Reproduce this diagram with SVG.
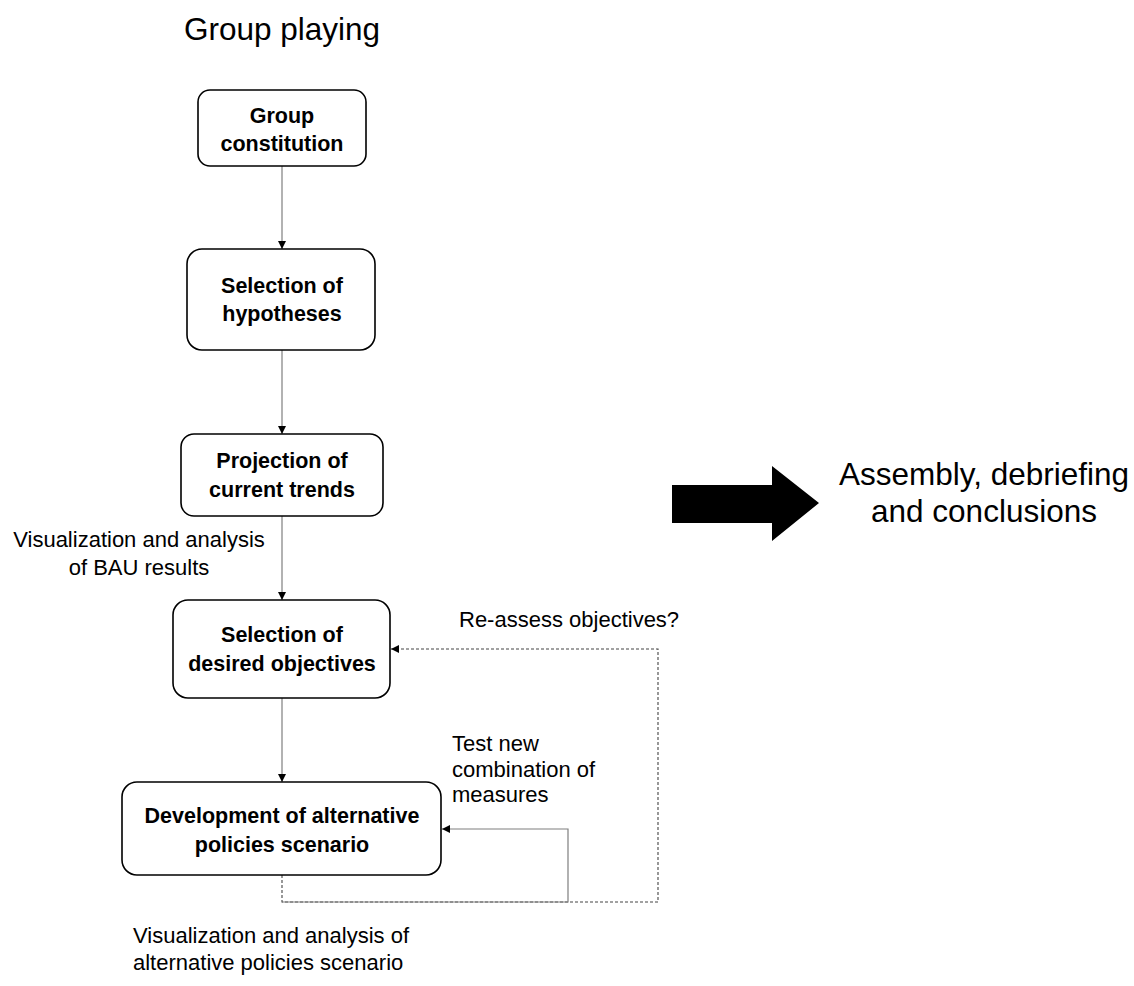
<svg xmlns="http://www.w3.org/2000/svg" width="1134" height="986" viewBox="0 0 1134 986">
<style>
.box{fill:#fff;stroke:#000;stroke-width:1.6}
.bt{font-family:"Liberation Sans",Arial,sans-serif;font-weight:bold;font-size:21.5px;fill:#000;text-anchor:middle}
.lt{font-family:"Liberation Sans",Arial,sans-serif;font-size:22px;fill:#000}
.big{font-family:"Liberation Sans",Arial,sans-serif;font-size:31.5px;fill:#000;text-anchor:middle}
.c{fill:none;stroke:#7f7f7f;stroke-width:1.2}
.d{fill:none;stroke:#444;stroke-width:1.1;stroke-dasharray:3 2}
</style>
<defs>
<marker id="ah" markerUnits="userSpaceOnUse" markerWidth="9" markerHeight="8" refX="8" refY="4" orient="auto">
<path d="M0,0 L8,4 L0,8 Z" fill="#000"/>
</marker>
</defs>
<rect width="1134" height="986" fill="#fff"/>
<text class="big" x="282" y="40">Group playing</text>
<g id="connectors">
<line class="c" x1="282" y1="166" x2="282" y2="249" marker-end="url(#ah)"/>
<line class="c" x1="282" y1="350" x2="282" y2="434" marker-end="url(#ah)"/>
<line class="c" x1="282" y1="516" x2="282" y2="600" marker-end="url(#ah)"/>
<line class="c" x1="282" y1="698" x2="282" y2="782" marker-end="url(#ah)"/>
<path class="d" d="M282,875 L282,902 L658,902 L658,649 L391,649" marker-end="url(#ah)"/>
<path class="c" d="M282,902 L568,902 L568,829 L442,829" marker-end="url(#ah)"/>
</g>
<g id="n1">
<rect class="box" x="198" y="90" width="168" height="76" rx="12"/>
<text class="bt" x="282" y="123">Group</text>
<text class="bt" x="282" y="151">constitution</text>
</g>
<g id="n2">
<rect class="box" x="187" y="249" width="188" height="101" rx="15"/>
<text class="bt" x="282" y="293">Selection of</text>
<text class="bt" x="282" y="321">hypotheses</text>
</g>
<g id="n3">
<rect class="box" x="181" y="434" width="202" height="82" rx="13"/>
<text class="bt" x="282" y="468">Projection of</text>
<text class="bt" x="282" y="497">current trends</text>
</g>
<g id="n4">
<rect class="box" x="173" y="600" width="217" height="98" rx="15"/>
<text class="bt" x="282" y="642">Selection of</text>
<text class="bt" x="282" y="671">desired objectives</text>
</g>
<g id="n5">
<rect class="box" x="122" y="782" width="319" height="93" rx="15"/>
<text class="bt" x="282" y="823">Development of alternative</text>
<text class="bt" x="282" y="852">policies scenario</text>
</g>
<g id="labels">
<text class="lt" x="139" y="547" text-anchor="middle">Visualization and analysis</text>
<text class="lt" x="139" y="575" text-anchor="middle">of BAU results</text>
<text class="lt" x="459" y="627">Re-assess objectives?</text>
<text class="lt" x="452" y="751">Test new</text>
<text class="lt" x="452" y="777">combination of</text>
<text class="lt" x="452" y="802">measures</text>
<text class="lt" x="133" y="943">Visualization and analysis of</text>
<text class="lt" x="133" y="970">alternative policies scenario</text>
</g>
<g id="final">
<path d="M672,485 L772,485 L772,466 L819,503 L772,541 L772,523 L672,523 Z" fill="#000"/>
<text class="big" x="984" y="485">Assembly, debriefing</text>
<text class="big" x="984" y="522">and conclusions</text>
</g>
</svg>
